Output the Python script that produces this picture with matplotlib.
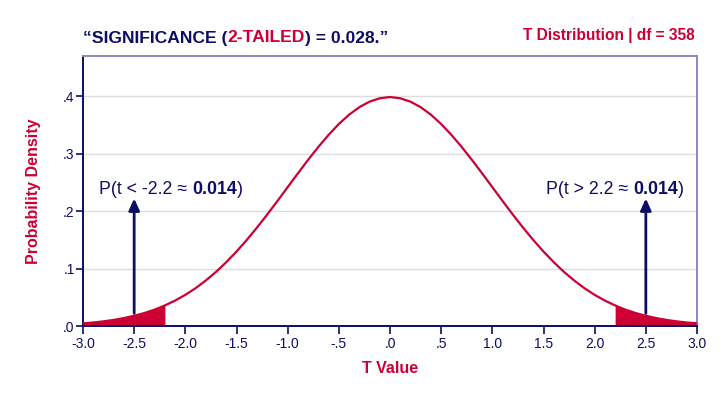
import matplotlib
matplotlib.use("Agg")
import matplotlib.pyplot as plt
import numpy as np

plt.rcParams['font.family'] = ['Liberation Sans', 'DejaVu Sans']

NAVY = "#0d0d66"
CRIMSON = "#cc0033"

# t values and probability density (t distribution, df = 358)
t_values = [round(-3.0 + 0.1 * i, 1) for i in range(61)]
density = [0.0046, 0.0061, 0.0081, 0.0106, 0.0138, 0.0178, 0.0226, 0.0285, 0.0358, 0.0442,
           0.0542, 0.0658, 0.0792, 0.0942, 0.1111, 0.1296, 0.1497, 0.1713, 0.1940, 0.2176,
           0.2417, 0.2657, 0.2893, 0.3118, 0.3327, 0.3516, 0.3678, 0.3809, 0.3905, 0.3964,
           0.3986,
           0.3964, 0.3905, 0.3809, 0.3678, 0.3516, 0.3327, 0.3118, 0.2893, 0.2657, 0.2417,
           0.2176, 0.1940, 0.1713, 0.1497, 0.1296, 0.1111, 0.0942, 0.0792, 0.0658, 0.0542,
           0.0442, 0.0358, 0.0285, 0.0226, 0.0178, 0.0138, 0.0106, 0.0081, 0.0061, 0.0046]
critical_t = 2.2
tail_prob = "0.014"
arrow_t = [-2.5, 2.5]
arrow_bottom = 0.022
arrow_top = 0.222

x_ticks = [-3.0, -2.5, -2.0, -1.5, -1.0, -0.5, 0.0, 0.5, 1.0, 1.5, 2.0, 2.5, 3.0]
x_tick_labels = ["-3.0", "-2.5", "-2.0", "-1.5", "-1.0", "-.5", ".0", ".5", "1.0", "1.5", "2.0", "2.5", "3.0"]
y_ticks = [0.0, 0.1, 0.2, 0.3, 0.4]
y_tick_labels = [".0", ".1", ".2", ".3", ".4"]

fig = plt.figure(figsize=(7.2, 3.96), dpi=100)
ax = fig.add_axes([83/720, 1 - 326/396, (697-83)/720, (326-56)/396])

x = np.array(t_values)
y = np.array(density)
ax.plot(x, y, color=CRIMSON, lw=1.6, zorder=3)
ax.fill_between(x, 0, y, where=(x <= -critical_t + 1e-9), color=CRIMSON, lw=0, zorder=2)
ax.fill_between(x, 0, y, where=(x >= critical_t - 1e-9), color=CRIMSON, lw=0, zorder=2)

ax.set_xlim(-3, 3)
ax.set_ylim(0, 0.47)
ax.set_xticks(x_ticks)
ax.set_xticklabels(x_tick_labels)
ax.set_yticks(y_ticks)
ax.set_yticklabels(y_tick_labels)
ax.tick_params(axis='both', colors=NAVY, labelcolor=NAVY, labelsize=10, length=6, width=1.2, direction='out', pad=2)
ax.tick_params(axis='y', length=5, pad=1)
ax.yaxis.grid(True, color="#dddddd", lw=1)
ax.set_axisbelow(True)
for s in ['left', 'bottom']:
    ax.spines[s].set_color(NAVY)
    ax.spines[s].set_linewidth(1.4)
for s in ['top', 'right']:
    ax.spines[s].set_color("#8888c0")
    ax.spines[s].set_linewidth(1.4)

ax.set_xlabel("T Value", color=CRIMSON, fontsize=11.5, fontweight='bold', labelpad=7)
ax.set_ylabel("Probability Density", color=CRIMSON, fontsize=11.5, fontweight='bold', labelpad=16)

for at in arrow_t:
    ax.annotate("", xy=(at, arrow_top), xytext=(at, arrow_bottom),
                arrowprops=dict(arrowstyle="-|>,head_length=0.7,head_width=0.32", color=NAVY, lw=2,
                                shrinkA=0, shrinkB=0), zorder=4)

fig.canvas.draw()
renderer = fig.canvas.get_renderer()

def rich_text(x0, base_px, pieces, size):
    """Place consecutive text pieces (text, color, weight) starting at x0 (pixels), on a common baseline."""
    cur = x0
    for txt, col, wt in pieces:
        t = fig.text(cur / 720, 1 - base_px / 396, txt, color=col, fontweight=wt, fontsize=size,
                     va='baseline', ha='left')
        bb = t.get_window_extent(renderer=renderer)
        cur = bb.x1

rich_text(83, 42.5, [("\u201cSIGNIFICANCE (", NAVY, 'bold'), ("2-TAILED", CRIMSON, 'bold'),
                     (") = 0.028.\u201d", NAVY, 'bold')], 12.6)
fig.text(695/720, 1 - 40/396, "T Distribution | df = 358", color=CRIMSON, fontweight='bold',
         fontsize=11.2, ha='right', va='baseline')

rich_text(99, 194, [("P(t < -" + str(critical_t) + " \u2248 ", NAVY, 'normal'), (tail_prob, NAVY, 'bold'), (")", NAVY, 'normal')], 12.8)
rich_text(546, 194, [("P(t > " + str(critical_t) + " \u2248 ", NAVY, 'normal'), (tail_prob, NAVY, 'bold'), (")", NAVY, 'normal')], 12.8)

fig.savefig("out.png", dpi=100)
